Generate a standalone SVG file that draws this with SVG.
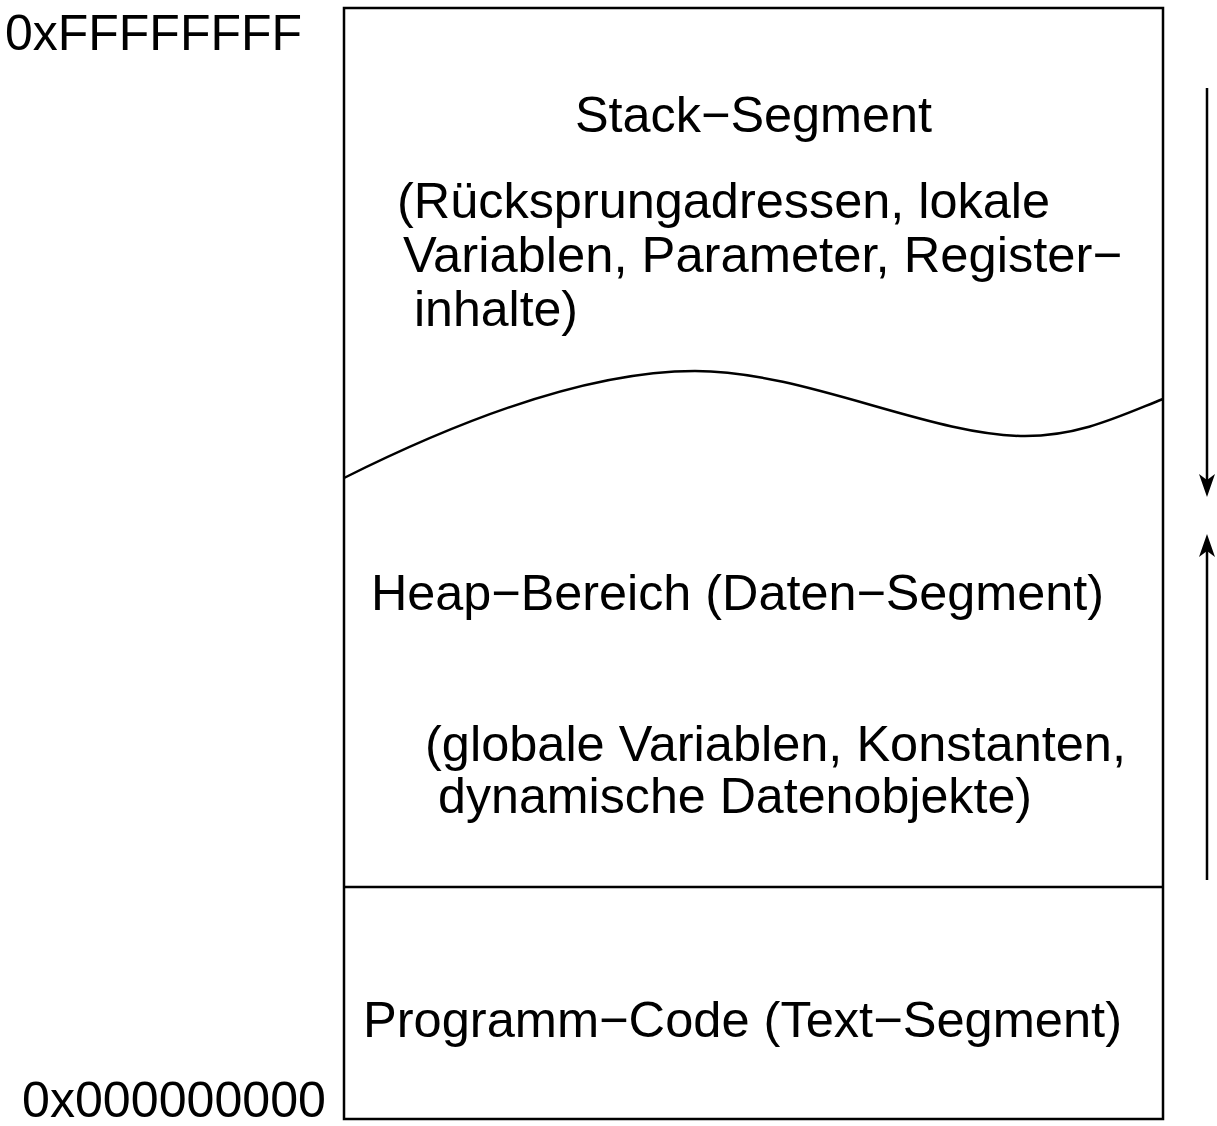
<svg xmlns="http://www.w3.org/2000/svg" width="1217" height="1126" viewBox="0 0 1217 1126">
<style>
text{font-family:"Liberation Sans",Arial,sans-serif;font-size:50px;fill:#000}
.ln{fill:none;stroke:#000;stroke-width:2.5}
</style>
<rect width="1217" height="1126" fill="#fff"/>
<g id="memory">
<rect class="ln" x="344" y="8" width="819" height="1111"/>
<line class="ln" x1="344" y1="887" x2="1163" y2="887"/>
<path class="ln" d="M344,478 C470,415 595,371 695,371 C805,371 930,436 1025,436 C1080,436 1120,416 1163,399"/>
</g>
<g id="stack">
<text x="575" y="132" textLength="357" lengthAdjust="spacingAndGlyphs">Stack−Segment</text>
<text x="397" y="218" textLength="653" lengthAdjust="spacingAndGlyphs">(Rücksprungadressen, lokale</text>
<text x="403" y="272" textLength="719" lengthAdjust="spacingAndGlyphs">Variablen, Parameter, Register−</text>
<text x="414" y="326" textLength="164" lengthAdjust="spacingAndGlyphs">inhalte)</text>
</g>
<g id="heap">
<text x="371" y="610" textLength="733" lengthAdjust="spacingAndGlyphs">Heap−Bereich (Daten−Segment)</text>
<text x="425" y="761" textLength="701" lengthAdjust="spacingAndGlyphs">(globale Variablen, Konstanten,</text>
<text x="438" y="813" textLength="594" lengthAdjust="spacingAndGlyphs">dynamische Datenobjekte)</text>
</g>
<g id="code">
<text x="363" y="1037" textLength="759" lengthAdjust="spacingAndGlyphs">Programm−Code (Text−Segment)</text>
</g>
<g id="labels">
<text x="5" y="50" textLength="297" lengthAdjust="spacingAndGlyphs">0xFFFFFFFF</text>
<text x="22" y="1117" textLength="304" lengthAdjust="spacingAndGlyphs">0x000000000</text>
</g>
<g id="connectors">
<line x1="1207" y1="88" x2="1207" y2="484" stroke="#000" stroke-width="2.5"/>
<path d="M1207,497 L1199,474 L1207,480 L1215,474 Z" fill="#000"/>
<line x1="1207" y1="880" x2="1207" y2="545" stroke="#000" stroke-width="2.5"/>
<path d="M1207,534 L1199,557 L1207,551 L1215,557 Z" fill="#000"/>
</g>
</svg>
